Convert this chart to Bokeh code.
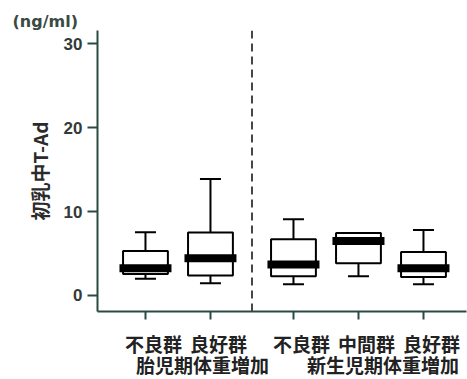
from bokeh.plotting import figure
from bokeh.models import Range1d, FixedTicker, Span, LinearAxis
from bokeh.embed import file_html
from bokeh.resources import INLINE

# ---- data ----
group_names = ["胎児期体重増加", "新生児期体重増加"]
group_of = [0, 0, 1, 1, 1]
box_labels = ["不良群", "良好群", "不良群", "中間群", "良好群"]
whisker_low = [2.0, 1.45, 1.35, 2.3, 1.35]
q1 = [2.55, 2.4, 2.3, 3.85, 2.2]
median = [3.25, 4.45, 3.7, 6.5, 3.25]
q3 = [5.3, 7.5, 6.7, 7.45, 5.2]
whisker_high = [7.55, 13.9, 9.1, 7.45, 7.8]
y_ticks = [0, 10, 20, 30]
y_title = "初乳中T-Ad"
unit_text = "(ng/ml)"

# ---- layout helpers ----
GAP = 0.277
xs = [i + 1 + GAP * g for i, g in enumerate(group_of)]
sep = (xs[1] + xs[2]) / 2
AXIS_COL = "#2b4a44"
LAB_SHIFT = 0.123
GRP_SHIFT = 0.377
LAB_FONT = "'Liberation Sans', 'Noto Sans CJK JP'"

p = figure(width=467, height=379, output_backend="svg", toolbar_location=None,
           x_range=Range1d(0.262, 5.939), y_range=Range1d(-1.909, 31.61),
           min_border_left=97, min_border_right=1, min_border_top=30,
           min_border_bottom=68)
p.outline_line_color = None
p.grid.visible = False
p.background_fill_color = "white"
p.border_fill_color = "white"

# unit text as title
p.title.text = unit_text
p.title.align = "left"
p.title.offset = -85
p.title.standoff = 0
p.title.text_font = "DejaVu Sans"
p.title.text_font_style = "bold"
p.title.text_font_size = "16px"
p.title.text_color = "#3a4a44"

# y axis
ya = p.yaxis[0]
ya.ticker = FixedTicker(ticks=y_ticks)
ya.axis_line_color = AXIS_COL
ya.axis_line_width = 2
ya.major_tick_line_color = AXIS_COL
ya.major_tick_line_width = 2
ya.major_tick_out = 10
ya.major_tick_in = 0
ya.minor_tick_line_color = None
ya.major_label_text_font = "Liberation Sans"
ya.major_label_text_font_style = "bold"
ya.major_label_text_font_size = "17px"
ya.major_label_text_color = "#333b38"
ya.major_label_text_baseline = "top"
ya.major_label_standoff = 5
ya.axis_label = y_title
ya.axis_label_text_font = "Noto Sans CJK JP"
ya.axis_label_text_font_style = "bold"
ya.axis_label_text_font_size = "19px"
ya.axis_label_text_color = "#2b2b2b"
ya.axis_label_standoff = 8

# x axis (ticks only)
xa = p.xaxis[0]
xa.ticker = FixedTicker(ticks=xs)
xa.axis_line_color = AXIS_COL
xa.axis_line_width = 2
xa.major_tick_line_color = AXIS_COL
xa.major_tick_line_width = 2
xa.major_tick_out = 8
xa.major_tick_in = 0
xa.minor_tick_line_color = None
xa.major_label_overrides = {x: "" for x in xs}
xa.major_label_text_font_size = "1px"
xa.major_label_standoff = 0

label_style = dict(axis_line_color=None, major_tick_line_color=None,
                   minor_tick_line_color=None, major_tick_out=0, major_tick_in=0,
                   major_label_text_font=LAB_FONT,
                   major_label_text_font_style="bold",
                   major_label_text_font_size="19px",
                   major_label_text_color="#222222")

# x axis for group labels (second row)
grp_ticks = []
for g in range(len(group_names)):
    gx = [x for x, gg in zip(xs, group_of) if gg == g]
    grp_ticks.append(sum(gx) / len(gx) + GRP_SHIFT)
ax3 = LinearAxis(ticker=FixedTicker(ticks=grp_ticks),
                 major_label_overrides={t: s for t, s in zip(grp_ticks, group_names)},
                 major_label_standoff=36, **label_style)
p.add_layout(ax3, "below")

# x axis for box labels (first row), pulled back up above the group row
lab_ticks = [x + LAB_SHIFT for x in xs]
ax2 = LinearAxis(ticker=FixedTicker(ticks=lab_ticks),
                 major_label_overrides={t: s for t, s in zip(lab_ticks, box_labels)},
                 major_label_standoff=-45, **label_style)
p.add_layout(ax2, "below")

# separator
p.add_layout(Span(location=sep, dimension="height", line_color="#444444",
                  line_width=2, line_dash="8 5"))

# whiskers
p.segment(x0=xs, y0=q3, x1=xs, y1=whisker_high, line_color="black", line_width=2)
p.segment(x0=xs, y0=whisker_low, x1=xs, y1=q1, line_color="black", line_width=2)
p.scatter(x=xs, y=whisker_high, marker="dash", size=21, line_color="black", line_width=2)
p.scatter(x=xs, y=whisker_low, marker="dash", size=21, line_color="black", line_width=2)
# boxes
p.vbar(x=xs, width=0.69, bottom=q1, top=q3, fill_color="white",
       line_color="black", line_width=2)
# medians
p.rect(x=xs, y=median, width=0.8, height=8, height_units="screen",
       fill_color="black", line_color=None)

open("out.html", "w").write(file_html(p, INLINE))
